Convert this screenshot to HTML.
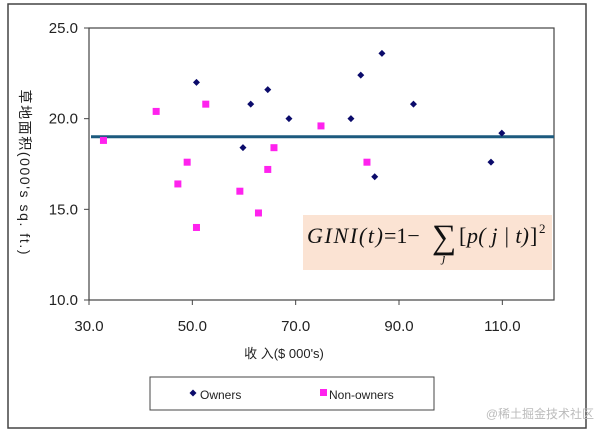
<!DOCTYPE html>
<html><head><meta charset="utf-8"><style>
body{margin:0;background:#fff;width:607px;height:434px;overflow:hidden;font-family:"Liberation Sans","Noto Sans CJK SC",sans-serif}
svg text{font-family:"Liberation Sans","Noto Sans CJK SC",sans-serif}
svg text.f{font-family:"Liberation Serif",serif}
</style></head><body>
<svg id="chart" width="607" height="434">
<rect x="8" y="4" width="578" height="424" fill="#fff" stroke="#444" stroke-width="1.5"/>
<rect x="89" y="28" width="465" height="272" fill="#fff" stroke="#444" stroke-width="1.2"/>
<g id="axes"></g>
<g id="marks"></g>
<g>
<rect x="303" y="215" width="249" height="55" fill="#fbe3d3"/>
<text class="f" x="307" y="243" font-size="22" font-style="italic" fill="#111" textLength="76">GINI(t)</text>
<text class="f" x="384" y="243" font-size="22" fill="#111">=1−</text>
<text class="f" x="432" y="248" font-size="34" fill="#111">∑</text>
<text class="f" x="459" y="243" font-size="22" fill="#111">[</text>
<text class="f" x="467" y="243" font-size="22" font-style="italic" fill="#111" textLength="62">p( j | t)</text>
<text class="f" x="530" y="243" font-size="22" fill="#111">]</text>
<text class="f" x="539" y="233" font-size="13" fill="#111">2</text>
<text class="f" x="442" y="262" font-size="13" font-style="italic" fill="#111">j</text>
</g>
<text transform="translate(20,172) rotate(90)" text-anchor="middle" font-size="14" fill="#222" textLength="165" lengthAdjust="spacing">草地面积(000's sq. ft.)</text>
<text x="284" y="358" text-anchor="middle" font-size="13" fill="#222">收 入($ 000's)</text>
<g>
<rect x="150" y="377" width="284" height="33" fill="#fff" stroke="#444"/>
<path d="M193 389.5l3.5 3.5-3.5 3.5-3.5-3.5z" fill="#0b0b6b"/>
<text x="200" y="399" font-size="12" fill="#222">Owners</text>
<rect x="320" y="389" width="7" height="7" fill="#ff22ee"/>
<text x="329" y="399" font-size="12" fill="#222">Non-owners</text>
</g>
<text x="594" y="418" text-anchor="end" font-size="12" fill="#bbb">@稀土掘金技术社区</text>
</svg>
<script>
const xTicks=[30,50,70,90,110];
const yTicks=[10,15,20,25];
const ownersX=[50.8,61.3,64.6,59.8,68.7,80.7,82.6,86.7,85.3,92.8,109.9,107.8];
const ownersY=[22.0,20.8,21.6,18.4,20.0,20.0,22.4,23.6,16.8,20.8,19.2,17.6];
const nonX=[32.8,43.0,52.6,49.0,47.2,50.8,59.2,62.8,64.6,65.8,74.9,83.8];
const nonY=[18.8,20.4,20.8,17.6,16.4,14.0,16.0,14.8,17.2,18.4,19.6,17.6];
const splitY=[19.0];
const NS="http://www.w3.org/2000/svg";
const X=v=>89+(v-30)*465/90, Y=v=>300-(v-10)*272/15;
function mk(t,a){const e=document.createElementNS(NS,t);for(const k in a)e.setAttribute(k,a[k]);return e;}
const ax=document.getElementById('axes'), mg=document.getElementById('marks');
xTicks.forEach(v=>{
 const l=mk('line',{x1:X(v),x2:X(v),y1:300,y2:305,stroke:'#444'});
 
 
 ax.appendChild(l);
 const t=mk('text',{x:X(v),y:331,'text-anchor':'middle','font-size':15,fill:'#222'});
 t.textContent=v.toFixed(1);
 
 
 ax.appendChild(t);
});
yTicks.forEach(v=>{
 const l=mk('line',{x1:84,x2:89,y1:Y(v),y2:Y(v),stroke:'#444'});
 
 
 ax.appendChild(l);
 const t=mk('text',{x:78,y:Y(v)+5,'text-anchor':'end','font-size':15,fill:'#222'});
 t.textContent=v.toFixed(1);
 
 
 ax.appendChild(t);
});
splitY.forEach(v=>{
 const l=mk('line',{x1:91,x2:554,y1:Y(v),y2:Y(v),stroke:'#1c5a7e','stroke-width':3});
 
 
 mg.appendChild(l);
});
ownersX.forEach((v,i)=>{
 const x=X(v),y=Y(ownersY[i]);
 const p=mk('path',{d:`M${x} ${y-3.5}l3.5 3.5-3.5 3.5-3.5-3.5z`,fill:'#0b0b6b'});
 
 
 mg.appendChild(p);
});
nonX.forEach((v,i)=>{
 const x=X(v),y=Y(nonY[i]);
 const r=mk('rect',{x:x-3.5,y:y-3.5,width:7,height:7,fill:'#ff22ee'});
 
 
 mg.appendChild(r);
});
</script>
</body></html>
